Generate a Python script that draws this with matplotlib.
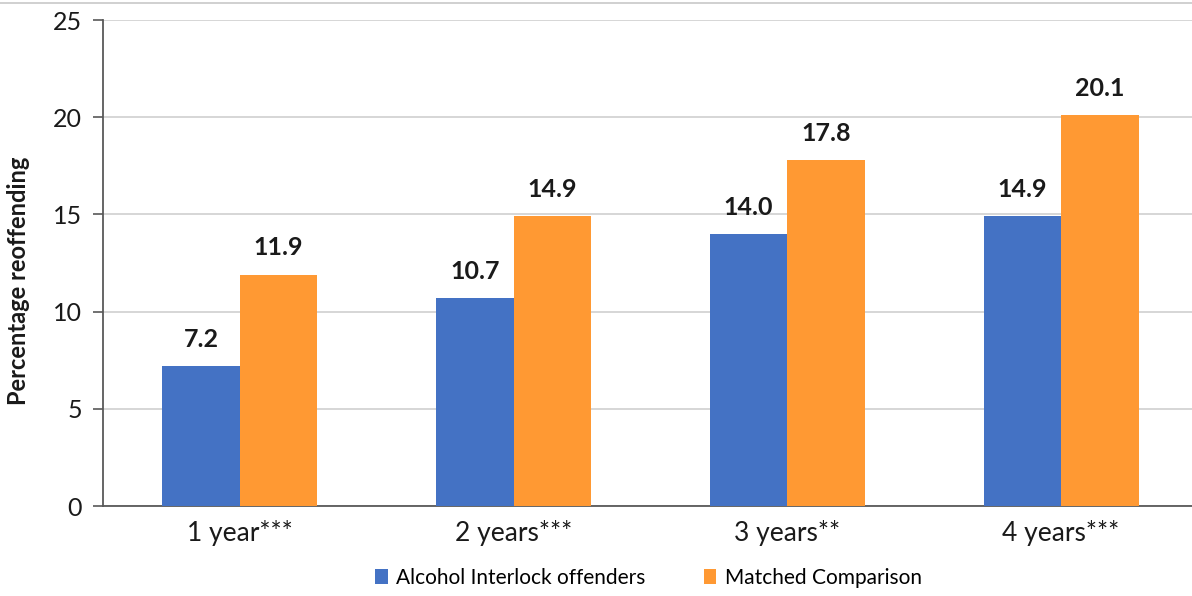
import numpy as np
import matplotlib
matplotlib.use("Agg")
import matplotlib.pyplot as plt
from matplotlib.lines import Line2D

# ── data ──────────────────────────────────────────────────────────────────────
periods    = ["1 year***", "2 years***", "3 years**", "4 years***"]
interlock  = [7.2, 10.7, 14.0, 14.9]
comparison = [11.9, 14.9, 17.8, 20.1]
series_names = ["Alcohol Interlock offenders", "Matched Comparison"]

BLUE   = "#4472C4"
ORANGE = "#FF9933"
INK    = "#1a1a1a"

plt.rcParams["font.family"] = ["Lato", "DejaVu Sans"]

fig = plt.figure(figsize=(11.92, 5.96), dpi=100)
ax = fig.add_axes([0.0864, 0.151, 0.9186, 0.8154])

x = np.arange(len(periods))
w = 0.283
b1 = ax.bar(x - w / 2, interlock, w, color=BLUE, label=series_names[0], zorder=3)
b2 = ax.bar(x + w / 2, comparison, w, color=ORANGE, label=series_names[1], zorder=3)

for bars, vals in [(b1, interlock), (b2, comparison)]:
    for rect, v in zip(bars, vals):
        ax.annotate(f"{v:.1f}", (rect.get_x() + rect.get_width() / 2, v),
                    xytext=(0, 11), textcoords="offset points",
                    ha="center", va="bottom", fontsize=18, fontweight="bold",
                    color=INK)

ax.set_xlim(-0.5, 3.5)
ax.set_ylim(0, 25)
ax.set_yticks(range(0, 26, 5))
ax.set_xticks(x)
ax.set_xticklabels(periods)
ax.yaxis.grid(True, color="#D0D0D0", lw=1.2, zorder=0)
ax.set_axisbelow(True)

for s in ["top", "right"]:
    ax.spines[s].set_visible(False)
for s in ["left", "bottom"]:
    ax.spines[s].set_color("#595959")
    ax.spines[s].set_linewidth(1.3)

ax.tick_params(axis="y", length=7, width=1.2, color="#595959",
               labelsize=18, pad=8, labelcolor=INK)
ax.tick_params(axis="x", length=0, labelsize=19, pad=10, labelcolor=INK)

ax.set_ylabel("Percentage reoffending", fontsize=17, fontweight="bold",
              color=INK)
ax.yaxis.set_label_coords(-0.067, 0.463)

fig.legend(handles=[b1, b2], labels=series_names, loc="center",
           bbox_to_anchor=(0.544, 0.03), ncol=2, frameon=False,
           fontsize=15, handlelength=0.6, handleheight=0.75,
           handletextpad=0.4, columnspacing=2.8)

# thin frame line along the top edge
fig.add_artist(Line2D([0, 1], [0.995, 0.995], transform=fig.transFigure,
                      color="#C8C8C8", lw=1.2))

fig.savefig("out.png", dpi=100)
plt.close(fig)
